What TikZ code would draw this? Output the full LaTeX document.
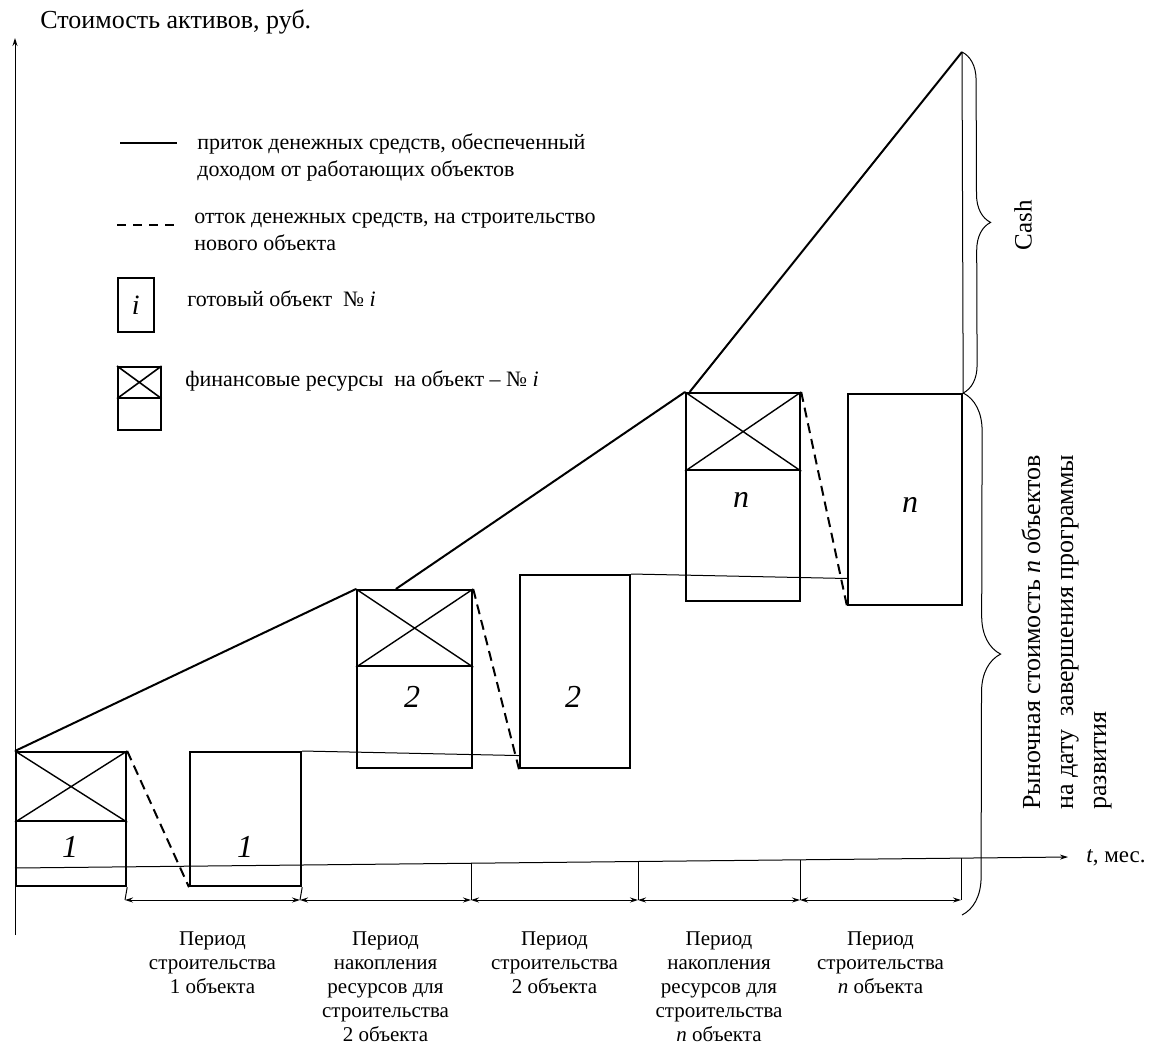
\documentclass[tikz,border=0pt]{standalone}
\usepackage{fontspec}
\setmainfont{Liberation Serif}
\newfontfamily\rufont{Liberation Serif}
\usepackage{tikz}
\usetikzlibrary{calc,arrows.meta,decorations.pathreplacing}

\begin{document}
\begin{tikzpicture}[x=0.5pt, y=-0.5pt,
  every node/.style={font=\rufont\fontsize{10.5}{12}\selectfont, inner sep=0pt},
  objbox/.style={draw, line width=1.1pt, anchor=north west},
  inflow/.style={line width=1pt},
  outflow/.style={line width=1pt, dash pattern=on 5pt off 3pt},
  thinline/.style={line width=0.5pt},
  dimarrow/.style={line width=0.5pt, {Stealth[length=4pt,width=2.5pt]}-{Stealth[length=4pt,width=2.5pt]}},
  boxlabel/.style={font=\rufont\fontsize{16}{16}\selectfont\itshape}]
  \useasboundingbox (0,0) rectangle (1157,1051);

  % Axes
  \coordinate (ybot) at (15,935);
  \coordinate (ytop) at (15,38);
  \coordinate (xo) at (15,868);
  \coordinate (xend) at (1068,857);
  \draw[thinline, -{Stealth[length=4pt,width=2.5pt]}] (ybot) -- (ytop);
  \draw[thinline, -{Stealth[length=4pt,width=2.5pt]}] (xo) -- (xend);
  \node[anchor=west, font=\rufont\fontsize{13}{15}\selectfont] (ylab) at (40,22) {Стоимость активов, руб.};
  \node[anchor=west, font=\rufont\fontsize{11.5}{13}\selectfont] (xlab) at (1086,858) {\textit{t}, мес.};

  % Legend
  \coordinate (l1a) at (120,143);
  \coordinate (l1b) at (177,143);
  \draw[inflow, line width=0.6pt] (l1a) -- (l1b);
  \node[anchor=west, align=left, font=\rufont\fontsize{11}{13.5}\selectfont] (lt1) at (197,157)
    {приток денежных средств, обеспеченный\\доходом от работающих объектов};
  \coordinate (l2a) at (117,225);
  \coordinate (l2b) at (177,225);
  \draw[outflow, line width=0.7pt, dash pattern=on 4.5pt off 3.5pt] (l2a) -- (l2b);
  \node[anchor=west, align=left, font=\rufont\fontsize{11}{13.5}\selectfont] (lt2) at (194,232)
    {отток денежных средств, на строительство\\нового объекта};
  \node[objbox, line width=0.8pt, minimum width=18pt, minimum height=27pt] (li) at (117,277) {};
  \node[font=\rufont\fontsize{14}{14}\selectfont\itshape] (lil) at (li.center) {i};
  \node[anchor=west, font=\rufont\fontsize{11}{13}\selectfont] (lt3) at (187,299) {готовый объект\ \ № \textit{i}};
  \node[objbox, line width=0.8pt, minimum width=21.5pt, minimum height=15.5pt] (lc) at (117,366) {};
  \node[objbox, line width=0.8pt, minimum width=21.5pt, minimum height=16pt] (lb) at (117,397) {};
  \draw[line width=0.8pt] (lc.north west) -- (lc.south east) (lc.north east) -- (lc.south west);
  \node[anchor=west, font=\rufont\fontsize{11}{13}\selectfont] (lt4) at (185,381) {финансовые ресурсы\ \ на объект – № \textit{i}};

  % Object 1: resources and finished object
  \node[objbox, minimum width=55pt, minimum height=34.5pt] (c1) at (15,751) {};
  \node[objbox, minimum width=55pt, minimum height=32.5pt] (b1) at (15,820) {};
  \node[objbox, minimum width=55.5pt, minimum height=67pt] (f1) at (189,751) {};
  \node[boxlabel] (lb1) at (70,847) {1};
  \node[boxlabel] (lf1) at (245,847) {1};

  % Object 2
  \node[objbox, minimum width=57.5pt, minimum height=38pt] (c2) at (356,589) {};
  \node[objbox, minimum width=57.5pt, minimum height=51pt] (b2) at (356,665) {};
  \node[objbox, minimum width=55pt, minimum height=96.5pt] (f2) at (519,574) {};
  \node[boxlabel] (lb2) at (412,697) {2};
  \node[boxlabel] (lf2) at (573,697) {2};

  % Object n
  \node[objbox, minimum width=57pt, minimum height=38.5pt] (cn) at (685,392) {};
  \node[objbox, minimum width=57pt, minimum height=65.5pt] (bn) at (685,469) {};
  \node[objbox, minimum width=57pt, minimum height=105.5pt] (fn) at (847,393) {};
  \node[boxlabel] (lbn) at (741,500) {n};
  \node[boxlabel] (lfn) at (910,505) {n};

  % Crosses on the resource parts
  \foreach \c in {c1,c2,cn}
    \draw[thinline, line width=0.7pt] (\c.north west) -- (\c.south east) (\c.north east) -- (\c.south west);

  % Inflow of cash
  \coordinate (peak) at (962,52);
  \draw[inflow] (c1.north west) -- (c2.north west);
  \draw[inflow] ($(c2.north west)!0.34!(c2.north east)$) -- (cn.north west);
  \draw[inflow] ($(cn.north west)!0.04!(cn.north east)$) -- (peak);
  \draw[thinline] (peak) -- (fn.north east);

  % Outflow to construction
  \draw[outflow] (c1.north east) -- (f1.south west);
  \draw[outflow] (c2.north east) -- (f2.south west);
  \draw[outflow] (cn.north east) -- (fn.south west);

  % Income of finished objects
  \draw[thinline] (f1.north east) -- ($(f2.north west)!0.93!(f2.south west)$);
  \draw[thinline] (f2.north east) -- ($(fn.north west)!0.87!(fn.south west)$);

  % Periods on the time axis
  \coordinate (d0) at (125,900);
  \coordinate (d1) at (300,900);
  \coordinate (d2) at (471,900);
  \coordinate (d3) at (638,900);
  \coordinate (d4) at (800,900);
  \coordinate (d5) at (961,900);
  \draw[thinline] (b1.south east) -- (d0);
  \draw[thinline] (f1.south east) -- (d1);
  \draw[thinline] (471,863) -- (d2);
  \draw[thinline] (638,861.5) -- (d3);
  \draw[thinline] (800,859.8) -- (d4);
  \draw[thinline] (961,858) -- (d5);
  \foreach \a/\b in {d0/d1,d1/d2,d2/d3,d3/d4,d4/d5}
    \draw[dimarrow] (\a) -- (\b);

  \node[anchor=north, align=center] (p1) at ($(d0)!0.5!(d1)+(0,31)$) {Период\\строительства\\1 объекта};
  \node[anchor=north, align=center] (p2) at ($(d1)!0.5!(d2)+(0,31)$) {Период\\накопления\\ресурсов для\\строительства\\2 объекта};
  \node[anchor=north, align=center] (p3) at ($(d2)!0.5!(d3)+(0,31)$) {Период\\строительства\\2 объекта};
  \node[anchor=north, align=center] (p4) at ($(d3)!0.5!(d4)+(0,31)$) {Период\\накопления\\ресурсов для\\строительства\\\textit{n} объекта};
  \node[anchor=north, align=center] (p5) at ($(d4)!0.5!(d5)+(0,31)$) {Период\\строительства\\\textit{n} объекта};

  % Braces: cash and market value
  \coordinate (vbot) at (962,915);
  \draw[thinline, decorate, decoration={brace, amplitude=14pt}] (peak) -- (fn.north east);
  \draw[thinline, decorate, decoration={brace, amplitude=19pt}] (fn.north east) -- (vbot);
  \node[rotate=90, font=\rufont\fontsize{12.5}{14}\selectfont] (cash) at (1023,225) {Cash};
  \node[rotate=90, anchor=north west, align=left, font=\rufont\fontsize{13}{16.5}\selectfont] (mv) at (1021,810)
    {Рыночная стоимость \textit{n} объектов\\на дату\ \ завершения программы\\развития};
\end{tikzpicture}
\end{document}
